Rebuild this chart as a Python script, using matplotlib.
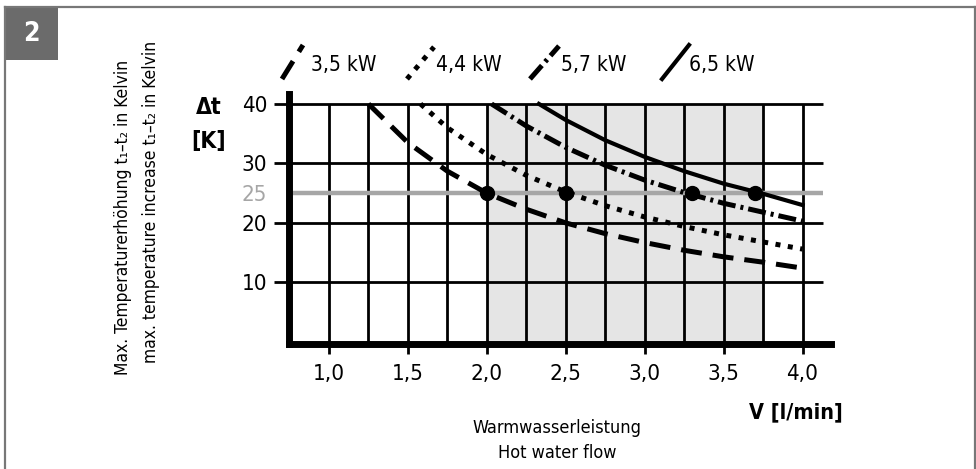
import matplotlib
matplotlib.use("Agg")
import matplotlib.pyplot as plt
from matplotlib.lines import Line2D
from matplotlib.patches import Rectangle
from matplotlib import font_manager as fm

# ---------------- data ----------------
x_ticks = [1.0, 1.5, 2.0, 2.5, 3.0, 3.5, 4.0]
x_tick_labels = ["1,0", "1,5", "2,0", "2,5", "3,0", "3,5", "4,0"]
y_ticks = [10, 20, 30, 40]
y_tick_labels = ["10", "20", "30", "40"]
ref_level = 25
shade_range = [2.0, 3.75]

series_names = ["3,5 kW", "4,4 kW", "5,7 kW", "6,5 kW"]

flow_35 = [1.25, 1.5, 1.75, 2.0, 2.25, 2.5, 2.75, 3.0, 3.25, 3.5, 3.75, 4.0]
dt_35 = [40.0, 33.5, 28.7, 25.0, 22.3, 20.0, 18.2, 16.7, 15.4, 14.3, 13.4, 12.4]

flow_44 = [1.58, 1.75, 2.0, 2.25, 2.5, 2.75, 3.0, 3.25, 3.5, 3.75, 4.0]
dt_44 = [40.0, 36.0, 31.5, 28.0, 25.2, 22.9, 21.0, 19.4, 18.0, 16.8, 15.6]

flow_57 = [2.03, 2.25, 2.5, 2.75, 3.0, 3.25, 3.5, 3.75, 4.0]
dt_57 = [40.0, 36.3, 32.7, 29.7, 27.2, 25.1, 23.3, 21.8, 20.3]

flow_65 = [2.33, 2.5, 2.75, 3.0, 3.25, 3.5, 3.75, 4.0]
dt_65 = [40.0, 37.3, 33.9, 31.1, 28.7, 26.6, 24.9, 23.0]

point_flow = [2.0, 2.5, 3.3, 3.7]
point_dt = [25, 25, 25, 25]

# ---------------- font selection (condensed if available) ----------------
def find_font(bold):
    prefs = ["Liberation Sans Narrow", "DejaVu Sans Condensed", "Roboto Condensed",
             "Open Sans Condensed", "Noto Sans Condensed", "DejaVu Sans"]
    cands = []
    for f in fm.fontManager.ttflist:
        name = f.name
        fn = f.fname.lower()
        is_bold = (f.weight in ("bold", 700, "heavy", 800)) or ("bold" in fn)
        if is_bold != bold or "oblique" in fn or "italic" in fn:
            continue
        cond = ("condensed" in fn or "narrow" in fn or "condensed" in name.lower()
                or "narrow" in name.lower() or f.stretch in ("condensed", "semi-condensed"))
        if not cond:
            continue
        cands.append(f)
    for p in prefs:
        for f in cands:
            if p.lower().replace(" ", "") in f.fname.lower().replace(" ", "").replace("-", "") \
                    or f.name == p:
                return fm.FontProperties(fname=f.fname)
    if cands:
        return fm.FontProperties(fname=cands[0].fname)
    return None

fp_reg = find_font(False)
fp_bold = find_font(True)
condensed = fp_reg is not None
if fp_bold is None:
    fp_bold = fm.FontProperties(family="DejaVu Sans", weight="bold")
if fp_reg is None:
    fp_reg = fm.FontProperties(family="DejaVu Sans")

scale = 1.0 if condensed else 0.82

def reg(size):
    p = fp_reg.copy()
    p.set_size(size * scale)
    return p

def bold(size):
    p = fp_bold.copy()
    p.set_size(size * scale)
    return p

# ---------------- figure ----------------
fig = plt.figure(figsize=(9.76, 4.69), dpi=100)
W, H = 976.0, 469.0

def fx(px):
    return px / W

def fy(py):
    return 1 - py / H

frame_col = "#777777"
fig.add_artist(Line2D([fx(5), fx(5)], [fy(7), 0], color=frame_col, lw=1.6))
fig.add_artist(Line2D([fx(5), fx(975)], [fy(7), fy(7)], color=frame_col, lw=1.6))
fig.add_artist(Line2D([fx(975), fx(975)], [fy(7), 0], color=frame_col, lw=1.6))
fig.add_artist(Rectangle((fx(5), fy(60)), fx(58) - fx(5), fy(7) - fy(60),
                         facecolor="#6b6b6b", edgecolor="none"))
fig.text(fx(31.5), fy(34), "2", color="white", fontproperties=bold(19),
         ha="center", va="center")

ax = fig.add_axes([0.2966, 0.2672, 0.5548, 0.5315])
ax.set_xlim(0.75, 4.18)
ax.set_ylim(-0.3, 41.6)

ax.fill_between(shade_range, 0, 40, color="#e5e5e5", zorder=0, linewidth=0)

vx = [1.0 + 0.25 * i for i in range(13)]
ax.vlines(vx, 0, 40, color="black", lw=2.0, zorder=1)
ax.hlines(y_ticks, 0.655, 4.13, color="black", lw=2.0, zorder=1, clip_on=False)
ax.hlines([ref_level], 0.75, 4.13, color="#a6a6a6", lw=3.2, zorder=2, clip_on=False)

dash_35 = (0, (4.2, 2.2))
dot_44 = (0, (1.0, 1.5))
dashdot_57 = (0, (3.6, 1.0, 0.6, 1.0))
ax.plot(flow_35, dt_35, color="black", lw=3.6, linestyle=dash_35,
        zorder=3, dash_capstyle="butt")
ax.plot(flow_44, dt_44, color="black", lw=3.6, linestyle=dot_44,
        zorder=3, dash_capstyle="butt")
ax.plot(flow_57, dt_57, color="black", lw=3.6, linestyle=dashdot_57,
        zorder=3, dash_capstyle="butt")
ax.plot(flow_65, dt_65, color="black", lw=3.0, linestyle="-", zorder=3)
ax.plot(point_flow, point_dt, "o", color="black", ms=10, zorder=4)

for s in ["top", "right"]:
    ax.spines[s].set_visible(False)
ax.spines["left"].set_linewidth(5)
ax.spines["bottom"].set_linewidth(5)

ax.set_xticks(x_ticks)
ax.set_xticklabels(x_tick_labels)
ax.tick_params(axis="x", direction="out", length=7.5, width=2.0, pad=7)
ax.set_yticks(y_ticks + [ref_level])
ax.set_yticklabels(y_tick_labels + [str(ref_level)])
ax.tick_params(axis="y", length=0, pad=16)
for lab in ax.get_xticklabels() + ax.get_yticklabels():
    lab.set_fontproperties(reg(16))
for lab in ax.get_yticklabels():
    if lab.get_text() == str(ref_level):
        lab.set_color("#a6a6a6")

fig.text(fx(209), fy(107), "Δt", fontproperties=bold(16.5), ha="center", va="center")
fig.text(fx(209), fy(141), "[K]", fontproperties=bold(16.5), ha="center", va="center")
fig.text(fx(123), fy(217), "Max. Temperaturerhöhung t₁–t₂ in Kelvin", rotation=90,
         fontproperties=reg(12.5), ha="center", va="center")
fig.text(fx(151), fy(202), "max. temperature increase t₁–t₂ in Kelvin", rotation=90,
         fontproperties=reg(12.5), ha="center", va="center")
fig.text(fx(796), fy(412), "V [l/min]", fontproperties=bold(15.5), ha="center", va="center")
fig.text(fx(557), fy(428), "Warmwasserleistung", fontproperties=reg(13),
         ha="center", va="center")
fig.text(fx(557), fy(453), "Hot water flow", fontproperties=reg(13),
         ha="center", va="center")

glyphs = [((282, 79), (303, 45)), ((407, 79), (434, 47)),
          ((530, 79), (559, 46)), ((662, 79), (689, 45))]
styles = [dict(lw=3.6, linestyle=dash_35),
          dict(lw=3.6, linestyle=dot_44),
          dict(lw=3.6, linestyle=dashdot_57),
          dict(lw=3.0, linestyle="-")]
text_x = [311, 436, 561, 689]
for (p0, p1), st, tx, name in zip(glyphs, styles, text_x, series_names):
    fig.add_artist(Line2D([fx(p0[0]), fx(p1[0])], [fy(p0[1]), fy(p1[1])],
                          color="black", dash_capstyle="butt", **st))
    fig.text(fx(tx), fy(65), name, fontproperties=reg(15), ha="left", va="center")

fig.savefig("out.png", dpi=100)
